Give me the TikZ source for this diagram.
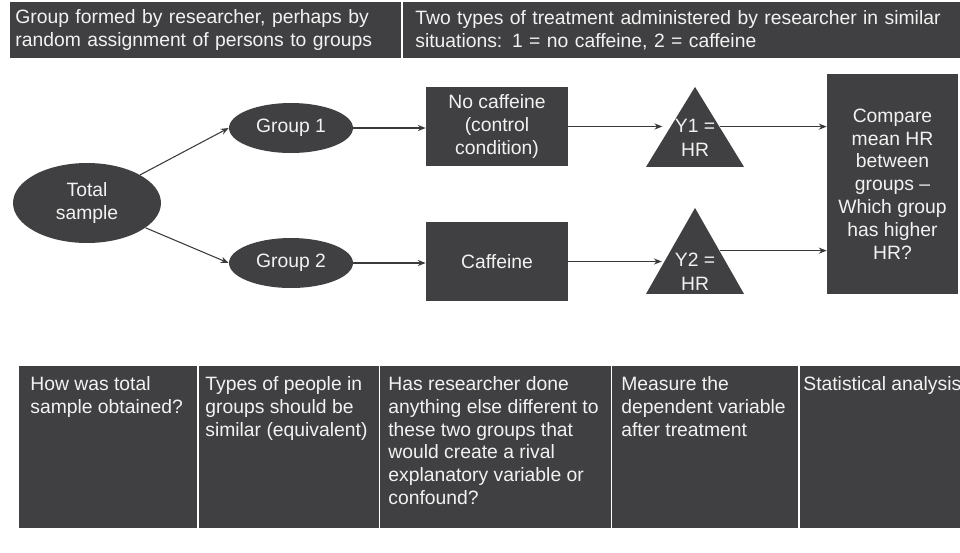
\documentclass[tikz,border=0pt]{standalone}
\usepackage{fontspec}
\setmainfont{Liberation Sans}
\usetikzlibrary{positioning, arrows.meta, shapes.geometric}
\definecolor{slate}{HTML}{404042}
\definecolor{chalk}{HTML}{F2F2F2}
\definecolor{ink}{HTML}{3A3A3A}

\tikzset{
  dark/.style={fill=slate, text=chalk, font=\fontsize{11}{13}\selectfont, inner sep=0pt},
  oval/.style={dark, ellipse, align=center},
  panel/.style={dark, rectangle, align=center},
  tri/.style={dark, isosceles triangle, shape border rotate=90,
    isosceles triangle stretches, anchor=apex},
  tritext/.style={text=chalk, font=\fontsize{11}{13.5}\selectfont, inner sep=0pt, align=center},
  cell/.style={dark, rectangle, anchor=north west},
  flow/.style={draw=ink, line width=0.6pt, -{Stealth[length=4.5pt,width=3.5pt]}},
}

\begin{document}
\begin{tikzpicture}[x=0.02cm, y=-0.02cm]
  \useasboundingbox (0,0) rectangle (960,552);
  % Kopfzeile
  \node[cell, minimum width=7.82cm, minimum height=1.12cm, text width=7.62cm,
    inner xsep=0.1cm, align=left] (hdr1) at (10,2)
    {Group formed by researcher, perhaps by\\random assignment of persons to groups};
  \node[cell, minimum width=11.14cm, minimum height=1.12cm, text width=10.66cm,
    inner xsep=0.24cm, align=left] (hdr2) at (403,2)
    {Two types of treatment administered by researcher in similar\\situations: 1 = no caffeine, 2 = caffeine};

  % Ablauf
  \node[oval, minimum width=2.96cm, minimum height=1.6cm] (total) at (87,203) {Total\\sample};
  \node[oval, minimum width=2.48cm, minimum height=1cm] (g1) at (291,128) {Group 1};
  \node[oval, minimum width=2.48cm, minimum height=1cm] (g2) at (291,263) {Group 2};
  \node[panel, minimum width=2.84cm, minimum height=1.58cm] (nocaf) at (497,126.5)
    {No caffeine\\(control\\condition)};
  \node[panel, minimum width=2.84cm, minimum height=1.58cm] (caf) at (497,261.5) {Caffeine};
  \node[tri, minimum width=1.96cm, minimum height=1.6cm] (y1) at (695,86) {};
  \node[tritext, below=0.66cm of y1.apex] (y1txt) {Y1 =\\HR};
  \node[tri, minimum width=1.96cm, minimum height=1.72cm] (y2) at (695,207) {};
  \node[tritext, below=0.92cm of y2.apex] (y2txt) {Y2 =\\HR};
  \node[panel, minimum width=2.62cm, minimum height=4.4cm] (cmp) at (892.5,184)
    {Compare\\mean HR\\between\\groups –\\Which group\\has higher\\HR?};

  \draw[flow] (total) -- (g1.west);
  \draw[flow] (total) -- (g2.west);
  \draw[flow] (g1.east) -- (g1.east -| nocaf.west);
  \draw[flow] (g2.east) -- (g2.east -| caf.west);
  \draw[flow] (nocaf.east) -- (nocaf.east -| y1.west);
  \draw[flow] (caf.east) -- (caf.east -| y2.west);
  \draw[flow] (y1.right side) -- (y1.right side -| cmp.west);
  \draw[flow] (y2.right side) -- (y2.right side -| cmp.west);

  % Fragen unten
  \tikzset{every node/.append style={font=\fontsize{11}{13.5}\selectfont}}
  \node[cell, inner xsep=0.22cm, inner ysep=0.2cm] (q1) at (19,366)
    {\parbox[t][2.84cm][t]{3.12cm}{\raggedright How was total\\sample obtained?}};
  \node[cell, inner xsep=0.12cm, inner ysep=0.2cm] (q2) at (199,366)
    {\parbox[t][2.84cm][t]{3.36cm}{\raggedright Types of people in\\groups should be\\similar (equivalent)}};
  \node[cell, inner xsep=0.16cm, inner ysep=0.2cm] (q3) at (380,366)
    {\parbox[t][2.84cm][t]{4.3cm}{\raggedright Has researcher done\\anything else different to\\these two groups that\\would create a rival\\explanatory variable or\\confound?}};
  \node[cell, inner xsep=0.18cm, inner ysep=0.2cm] (q4) at (612,366)
    {\parbox[t][2.84cm][t]{3.36cm}{\raggedright Measure the\\dependent variable\\after treatment}};
  \node[cell, inner xsep=0.06cm, inner ysep=0.2cm] (q5) at (800,366)
    {\parbox[t][2.84cm][t]{3.18cm}{\raggedright Statistical analysis}};
\end{tikzpicture}
\end{document}
